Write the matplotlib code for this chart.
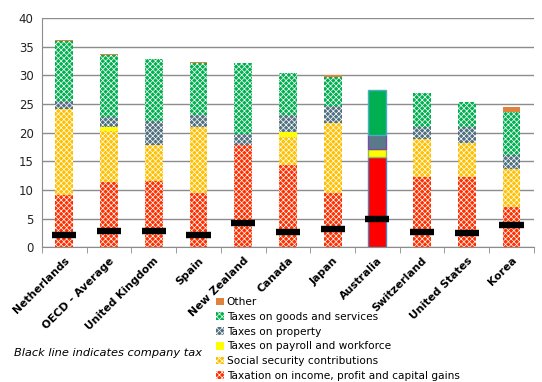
import matplotlib
matplotlib.use("Agg")
import matplotlib.pyplot as plt
import numpy as np

countries = ["Netherlands", "OECD - Average", "United Kingdom", "Spain", "New Zealand",
             "Canada", "Japan", "Australia", "Switzerland", "United States", "Korea"]

income = [9.15, 11.45, 11.6, 9.5, 17.75, 14.4, 9.5, 15.65, 12.3, 12.2, 7.05]
social = [14.95, 8.85, 6.2, 11.4, 0.0, 4.9, 12.15, 0.0, 6.6, 6.0, 6.55]
payroll = [0.0, 0.6, 0.0, 0.0, 0.0, 0.75, 0.0, 1.55, 0.0, 0.0, 0.0]
property_ = [1.35, 1.8, 4.3, 2.1, 2.05, 3.05, 2.95, 2.3, 2.0, 2.75, 2.5]
goods = [10.55, 10.8, 10.8, 9.2, 12.4, 7.35, 5.1, 7.9, 6.0, 4.45, 7.5]
other = [0.2, 0.15, 0.0, 0.2, 0.0, 0.0, 0.3, 0.0, 0.0, 0.0, 0.8]
company_tax = [2.05, 2.9, 2.75, 2.05, 4.3, 2.7, 3.25, 5.0, 2.7, 2.55, 3.9]

series = [
    ("Taxation on income, profit and capital gains", income, "#FF3000", True, "#FF0000", "#4F81BD"),
    ("Social security contributions", social, "#FFC000", True, "#FFC000", "#4F81BD"),
    ("Taxes on payroll and workforce", payroll, "#FFFF00", False, "#FFFF00", "#9BBB59"),
    ("Taxes on property", property_, "#51707F", True, "#5A7A8A", "#7B4BA8"),
    ("Taxes on goods and services", goods, "#00B050", True, "#00B050", "#4BACC6"),
    ("Other", other, "#E0823C", False, "#E0823C", "#E0823C"),
]
highlight = countries.index("Australia")

plt.rcParams["hatch.linewidth"] = 0.5
plt.rcParams["font.family"] = "DejaVu Sans"

fig = plt.figure(figsize=(5.42, 3.82), dpi=100)
ax = fig.add_axes([0.0775, 0.353, 0.9075, 0.600])

x = np.arange(len(countries))
bottom = np.zeros(len(countries))
for label, vals, color, hatched, hcolor, hedge in series:
    vals = np.array(vals)
    bars = ax.bar(x, vals, 0.4, bottom=bottom, color=color, label=label,
                  hatch="xxxxxx" if hatched else None,
                  edgecolor="white" if hatched else color, linewidth=0, zorder=2)
    # Australia is drawn solid with an outline
    p = bars[highlight]
    p.set_hatch(None)
    p.set_facecolor(hcolor)
    p.set_edgecolor(hedge)
    p.set_linewidth(1.0 if vals[highlight] > 0 else 0)
    bottom += vals

ax.hlines(company_tax, x - 0.27, x + 0.27, color="black", lw=4.6, zorder=3)

ax.set_ylim(0, 40)
ax.set_xlim(-0.5, len(countries) - 0.5)
ax.set_yticks(range(0, 41, 5))
ax.yaxis.grid(True, color="#8C8C8C", lw=1.0, zorder=0)
ax.set_axisbelow(True)
ax.tick_params(axis="y", length=0, labelsize=8.5, colors="#222222", pad=6)
ax.set_xticks(x)
ax.set_xticklabels(countries, rotation=45, ha="right", va="top", rotation_mode="anchor",
                   fontsize=7.8, fontweight="bold")
ax.tick_params(axis="x", which="major", length=0, pad=6)
ax.set_xticks(np.arange(-0.5, len(countries)), minor=True)
ax.tick_params(axis="x", which="minor", length=4, color="#8C8C8C", direction="out")
for s in ["top", "right"]:
    ax.spines[s].set_visible(False)
for s in ["left", "bottom"]:
    ax.spines[s].set_color("#8C8C8C")

handles, labels = ax.get_legend_handles_labels()
fig.legend(handles[::-1], labels[::-1], loc="upper left", bbox_to_anchor=(0.398, 0.222),
           frameon=False, fontsize=7.6, handlelength=0.75, handleheight=0.75,
           handletextpad=0.3, labelspacing=0.45, borderpad=0, borderaxespad=0)

fig.text(0.026, 0.075, "Black line indicates company tax", fontsize=8.2, style="italic",
         va="center", ha="left")

fig.savefig("out.png", dpi=100)
